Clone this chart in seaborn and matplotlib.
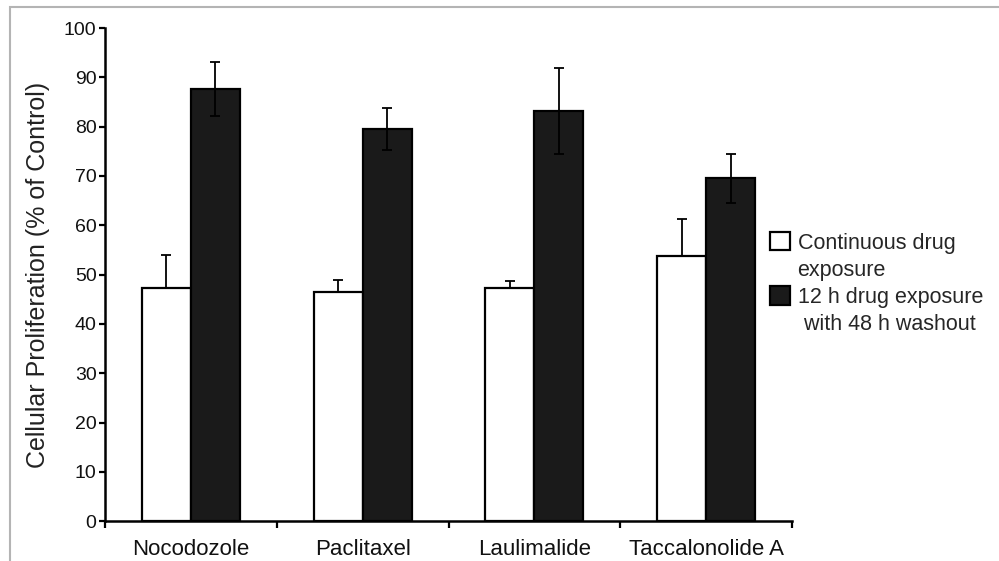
import matplotlib
matplotlib.use("Agg")
import matplotlib.pyplot as plt
from matplotlib.patches import Patch, Rectangle
import pandas as pd
import seaborn as sns

# values
drugs = ["Nocodozole", "Paclitaxel", "Laulimalide", "Taccalonolide A"]
conditions = ["Continuous drug exposure", "12 h drug exposure with 48 h washout"]
legend_lines = ["Continuous drug", "exposure", "12 h drug exposure", " with 48 h washout"]
continuous = [47.2, 46.5, 47.2, 53.7]
continuous_err = [6.7, 2.4, 1.6, 7.6]
washout = [87.6, 79.5, 83.2, 69.5]
washout_err = [5.5, 4.2, 8.7, 4.9]

df = pd.DataFrame({
    "Drug": drugs * 2,
    "Condition": [conditions[0]] * 4 + [conditions[1]] * 4,
    "Value": continuous + washout,
})

sns.set_style("ticks")
plt.rcParams["font.family"] = ["Liberation Sans", "DejaVu Sans"]

fig, ax = plt.subplots(figsize=(9.99, 5.61), dpi=100)
fig.subplots_adjust(left=0.105, right=0.793, bottom=0.071, top=0.950)

sns.barplot(data=df, x="Drug", y="Value", hue="Condition",
            palette=["white", "#1a1a1a"], edgecolor="black", linewidth=1.6,
            width=0.57, gap=0, errorbar=None, legend=False, ax=ax)

# error bars: only upward for the open bars
for cont, errs, both in zip(ax.containers, [continuous_err, washout_err], [False, True]):
    for bar, e in zip(cont, errs):
        x = bar.get_x() + bar.get_width() / 2
        h = bar.get_height()
        ax.errorbar(x, h, yerr=[[e if both else 0], [e]], fmt="none",
                    ecolor="black", elinewidth=1.3, capsize=3.5, capthick=1.3, zorder=4)

ax.set_xlim(-0.5, 3.5)
ax.set_ylim(0, 100)
ax.set_yticks(range(0, 101, 10))
ax.set_xticks(range(4))
ax.set_xticks([-0.5, 0.5, 1.5, 2.5, 3.5], minor=True)
ax.tick_params(axis="x", which="major", length=0, pad=13, labelsize=16, labelcolor="#111111")
ax.tick_params(axis="x", which="minor", length=5, width=1.6, color="black")
ax.tick_params(axis="y", length=4, width=1.6, pad=2, labelsize=14, labelcolor="#111111", color="black")
ax.set_xlabel("")
ax.set_ylabel("Cellular Proliferation (% of Control)", fontsize=18, color="#222222", labelpad=10)
sns.despine(ax=ax)
for s in ["left", "bottom"]:
    ax.spines[s].set_linewidth(1.8)
    ax.spines[s].set_color("black")

# legend: handle sits beside the first line of each two-line label
blank = Patch(facecolor="none", edgecolor="none")
handles = [Patch(facecolor="white", edgecolor="black", linewidth=1.6), blank,
           Patch(facecolor="#1a1a1a", edgecolor="black", linewidth=1.6), blank]
fig.legend(handles, legend_lines, loc="center left", bbox_to_anchor=(0.751, 0.495),
           frameon=False, fontsize=15.5, handlelength=0.95, handleheight=0.95,
           handletextpad=0.35, labelspacing=0.25)

# thin grey frame of the original image
fig.add_artist(Rectangle((10 / 999, -0.1), 1.2, 1.1 - 7 / 561, transform=fig.transFigure,
                         fill=False, edgecolor="#b4b4b4", linewidth=1.5))

fig.savefig("out.png", dpi=100)
